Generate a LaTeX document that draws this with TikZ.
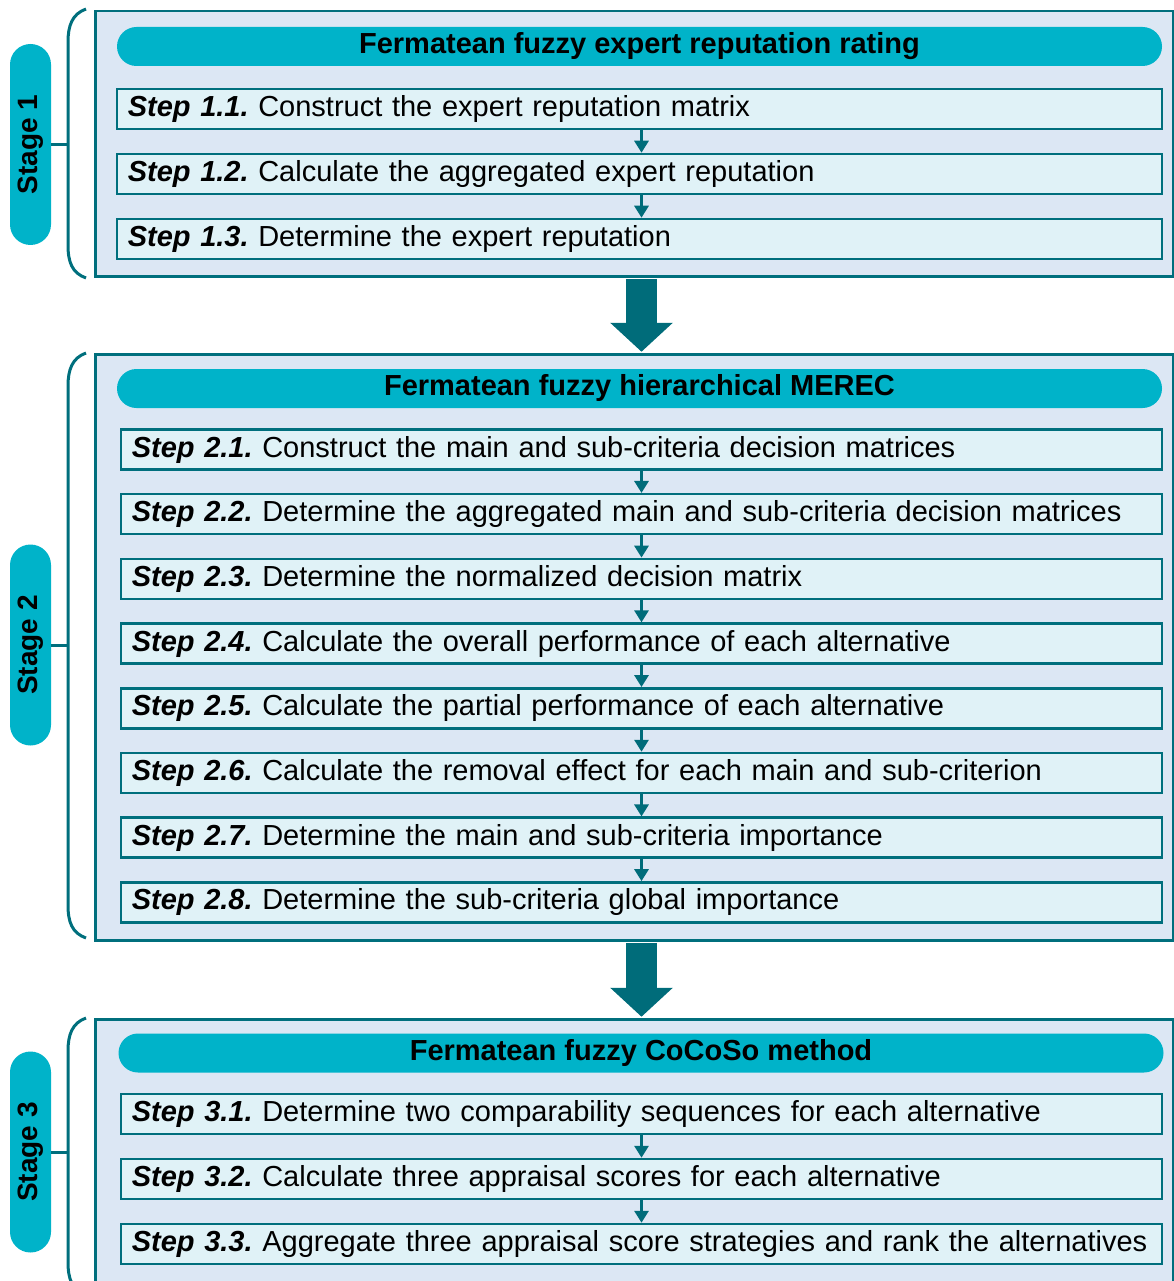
\documentclass[tikz,border=0pt]{standalone}
\usepackage{fontspec}
\setmainfont{Liberation Sans}
\usetikzlibrary{arrows.meta,positioning}
\frenchspacing
\definecolor{pillcyan}{RGB}{0,179,201}
\definecolor{panelblue}{RGB}{220,231,244}
\definecolor{stepfill}{RGB}{224,242,247}
\definecolor{tealline}{RGB}{0,111,125}
\definecolor{arrowteal}{RGB}{0,108,122}
\newcommand{\steptext}{\fontsize{29}{34}\selectfont\frenchspacing}
\newcommand{\headtext}{\fontsize{29}{34}\selectfont\bfseries}
\newcommand{\stagetext}{\fontsize{28}{32}\selectfont\bfseries}
\newcommand{\stp}[1]{\textbf{\textit{Step #1.}}}
\tikzset{
    panel/.style={draw=tealline, line width=2.5pt, fill=panelblue, anchor=north west, inner sep=0pt, minimum width=1078pt},
    headpill/.style={fill=pillcyan, rounded corners=19.5pt, minimum width=1045pt, minimum height=39pt, inner sep=0pt, font=\headtext},
    stagepill/.style={fill=pillcyan, rounded corners=20.5pt, minimum width=201pt, minimum height=41pt, inner sep=0pt, rotate=90, font=\stagetext},
    stepbox/.style={draw=tealline, line width=2.5pt, fill=stepfill, anchor=east, minimum height=40pt, inner xsep=11pt, inner ysep=0pt, text width=#1, align=left, font=\steptext},
    stepbox/.default=1019pt,
    brace/.style={draw=tealline, line width=3pt},
    smallarrow/.style={draw=arrowteal, line width=3pt, -{Triangle[length=12pt,width=14pt]}},
    bigarrow/.style={draw=arrowteal, line width=31pt, shorten <=1.25pt, shorten >=1.25pt, -{Triangle[length=29pt,width=61pt]}}
}
\begin{document}
\begin{tikzpicture}[x=1pt,y=-1pt]
    \useasboundingbox (0,0) rectangle (1173,1281);
    \coordinate (axis) at (641.5,0);

    % stage 1
    \node[panel, minimum height=265pt] (p1) at (94,10) {};
    \node[headpill] (h1) at (639.5,46.5) {Fermatean fuzzy expert reputation rating};
    \node[stepbox=1023pt] (s11) at (1163,109) {\stp{1.1} Construct the expert reputation matrix};
    \node[stepbox=1023pt] (s12) at (1163,174) {\stp{1.2} Calculate the aggregated expert reputation};
    \node[stepbox=1023pt] (s13) at (1163,239) {\stp{1.3} Determine the expert reputation};
    \draw[smallarrow] (s11.south -| axis) -- (s12.north -| axis);
    \draw[smallarrow] (s12.south -| axis) -- (s13.north -| axis);
    \node[stagepill] (g1) at (30.5,144.5) {Stage 1};
    \coordinate (b1) at (68,144.5);
    \draw[brace] (86,9) .. controls (72,14) and (68,26) .. (68,42) -- (68,245) .. controls (68,262) and (72,273) .. (86,278);
    \draw[brace] (g1.south) -- (b1);

    % stage 2
    \node[panel, minimum height=586pt] (p2) at (94,353) {};
    \node[headpill] (h2) at (639.5,388.5) {Fermatean fuzzy hierarchical MEREC};
    \node[stepbox] (s21) at (1163,449.5) {\stp{2.1} Construct the main and sub-criteria decision matrices};
    \node[stepbox] (s22) at (1163,514.2) {\stp{2.2} Determine the aggregated main and sub-criteria decision matrices};
    \node[stepbox] (s23) at (1163,578.9) {\stp{2.3} Determine the normalized decision matrix};
    \node[stepbox] (s24) at (1163,643.6) {\stp{2.4} Calculate the overall performance of each alternative};
    \node[stepbox] (s25) at (1163,708.3) {\stp{2.5} Calculate the partial performance of each alternative};
    \node[stepbox] (s26) at (1163,773) {\stp{2.6} Calculate the removal effect for each main and sub-criterion};
    \node[stepbox] (s27) at (1163,837.7) {\stp{2.7} Determine the main and sub-criteria importance};
    \node[stepbox] (s28) at (1163,902.4) {\stp{2.8} Determine the sub-criteria global importance};
    \draw[smallarrow] (s21.south -| axis) -- (s22.north -| axis);
    \draw[smallarrow] (s22.south -| axis) -- (s23.north -| axis);
    \draw[smallarrow] (s23.south -| axis) -- (s24.north -| axis);
    \draw[smallarrow] (s24.south -| axis) -- (s25.north -| axis);
    \draw[smallarrow] (s25.south -| axis) -- (s26.north -| axis);
    \draw[smallarrow] (s26.south -| axis) -- (s27.north -| axis);
    \draw[smallarrow] (s27.south -| axis) -- (s28.north -| axis);
    \node[stagepill] (g2) at (30.5,645) {Stage 2};
    \coordinate (b2) at (68,645);
    \draw[brace] (86,353) .. controls (72,358) and (68,370) .. (68,386) -- (68,905) .. controls (68,922) and (72,933) .. (86,938);
    \draw[brace] (g2.south) -- (b2);

    % stage 3
    \node[panel, minimum height=290pt] (p3) at (94,1018) {};
    \node[headpill] (h3) at (641,1053) {Fermatean fuzzy CoCoSo method};
    \node[stepbox] (s31) at (1163,1114) {\stp{3.1} Determine two comparability sequences for each alternative};
    \node[stepbox] (s32) at (1163,1179) {\stp{3.2} Calculate three appraisal scores for each alternative};
    \node[stepbox] (s33) at (1163,1244) {\stp{3.3} Aggregate three appraisal score strategies and rank the alternatives};
    \draw[smallarrow] (s31.south -| axis) -- (s32.north -| axis);
    \draw[smallarrow] (s32.south -| axis) -- (s33.north -| axis);
    \node[stagepill] (g3) at (30.5,1152) {Stage 3};
    \coordinate (b3) at (68,1152);
    \draw[brace] (86,1018) .. controls (72,1023) and (68,1035) .. (68,1051) -- (68,1262) .. controls (68,1279) and (72,1290) .. (86,1295);
    \draw[brace] (g3.south) -- (b3);

    % between stages
    \draw[bigarrow] (p1.south -| axis) -- (p2.north -| axis);
    \draw[bigarrow] (p2.south -| axis) -- (p3.north -| axis);
\end{tikzpicture}
\end{document}
